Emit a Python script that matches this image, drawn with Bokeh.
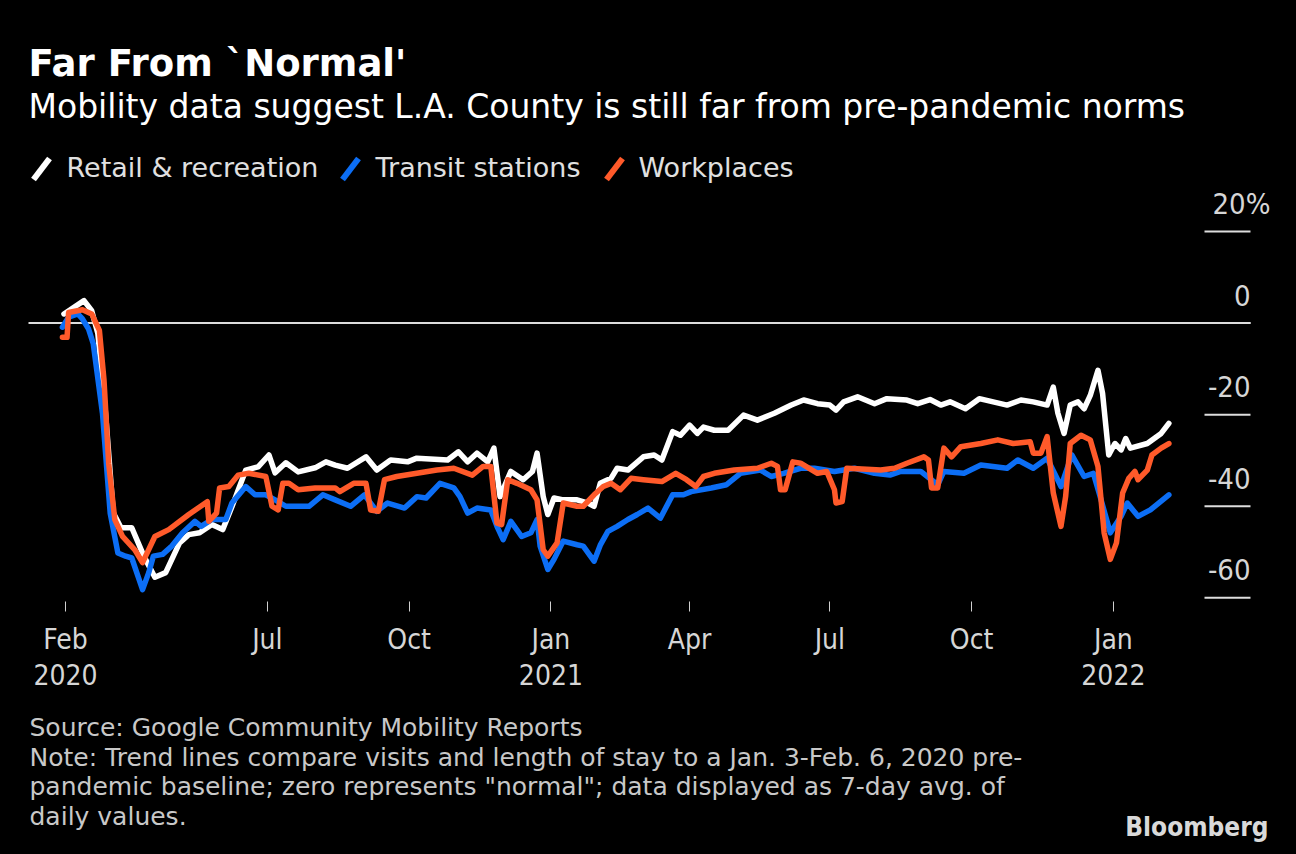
import pandas as pd
from bokeh.plotting import figure
from bokeh.layouts import column
from bokeh.models import Range1d, FixedTicker
from bokeh.core.properties import value
from bokeh.embed import file_html
from bokeh.resources import INLINE

# ---------------- data (days since 2020-02-21, % change vs. baseline) ----------------
START = "2020-02-21"

retail_day = [-1, 12, 17, 21, 26, 31, 36, 43, 51, 58, 65, 74, 80, 87, 95, 102, 108, 117, 125, 132,
              136, 143, 151, 162, 169, 175, 183, 195, 202, 211, 222, 228, 248, 255, 261, 267, 274, 278,
              282, 289, 297, 303, 306, 310, 313, 317, 323, 332, 339, 343, 347, 354, 358, 365, 375, 382,
              387, 394, 399, 405, 410, 414, 421, 430, 440, 449, 460, 471, 479, 488, 496, 500, 505, 514,
              525, 533, 546, 553, 561, 568, 574, 584, 593, 602, 611, 620, 628, 637, 641, 644, 648, 652,
              657, 661, 665, 670, 673, 677, 681, 685, 688, 691, 702, 711, 716]
retail_val = [2.0, 4.9, 2.7, -2.3, -19.7, -41.4, -44.7, -44.7, -51.0, -55.5, -54.5, -48.0, -46.2, -45.8,
              -44.0, -45.1, -40.1, -32.1, -31.4, -28.8, -32.7, -30.5, -32.5, -31.6, -30.3, -31.0, -31.7,
              -29.2, -32.1, -29.9, -30.3, -29.5, -29.9, -28.1, -30.3, -28.4, -30.3, -27.3, -37.9, -32.4,
              -34.2, -32.4, -28.4, -37.9, -41.8, -38.2, -38.6, -38.6, -39.3, -40.0, -35.0, -33.9, -31.7,
              -32.1, -29.2, -28.8, -29.9, -23.7, -24.5, -22.3, -24.1, -22.7, -23.4, -23.4, -20.1, -21.2,
              -19.7, -17.9, -16.8, -17.6, -17.9, -19.0, -17.2, -16.1, -17.6, -16.5, -16.8, -17.6, -16.7,
              -17.9, -17.2, -18.7, -16.5, -17.2, -17.9, -16.8, -17.2, -17.9, -14.0, -19.7, -24.1, -17.9,
              -17.2, -18.7, -15.8, -10.3, -15.4, -28.8, -26.3, -27.7, -25.2, -27.3, -26.3, -24.1, -21.9]

transit_day = [-2, 2, 8, 11, 15, 18, 24, 29, 34, 39, 43, 50, 54, 57, 63, 69, 76, 84, 88, 95, 104, 108,
               117, 123, 130, 136, 143, 158, 167, 175, 185, 194, 202, 209, 220, 228, 234, 243, 252, 256,
               261, 267, 276, 280, 284, 289, 296, 302, 306, 308, 313, 317, 323, 332, 336, 343, 347, 352,
               358, 365, 371, 378, 386, 394, 401, 406, 419, 429, 438, 451, 458, 466, 477, 486, 499, 512,
               525, 535, 542, 555, 566, 570, 583, 594, 611, 618, 628, 637, 646, 653, 661, 667, 672, 678,
               685, 689, 696, 704, 716]
transit_val = [-0.9, 1.3, 2.0, 0.9, -1.3, -4.5, -19.7, -41.5, -50.2, -50.9, -51.3, -58.2, -54.5, -50.9,
               -50.5, -48.7, -45.8, -43.3, -44.4, -42.9, -42.9, -39.3, -35.7, -37.5, -37.5, -38.6, -40.0,
               -40.0, -37.5, -38.6, -40.0, -37.5, -41.1, -39.3, -40.4, -37.9, -38.2, -35.0, -36.0, -37.9,
               -41.5, -40.4, -40.8, -44.4, -47.3, -43.3, -46.6, -45.8, -42.9, -48.7, -53.8, -51.6, -47.6,
               -48.4, -48.7, -52.0, -48.5, -45.5, -44.4, -42.9, -41.8, -40.4, -42.6, -37.5, -37.5, -36.8,
               -36.0, -35.3, -32.8, -32.1, -33.5, -32.8, -31.7, -31.7, -32.4, -31.7, -32.8, -33.2, -32.4,
               -32.4, -35.3, -32.4, -32.8, -31.0, -31.7, -29.9, -31.7, -29.5, -35.7, -28.8, -33.5, -32.8,
               -38.6, -45.8, -42.2, -39.3, -42.2, -40.8, -37.5]

work_day = [-2, 1, 2, 11, 17, 22, 25, 28, 32, 37, 45, 50, 58, 67, 80, 92, 93, 98, 100, 106, 112, 119,
            130, 134, 138, 141, 145, 151, 162, 175, 178, 187, 195, 198, 203, 207, 215, 228, 241, 252,
            264, 271, 276, 280, 283, 287, 293, 302, 306, 310, 313, 319, 323, 332, 336, 343, 349, 354,
            360, 367, 375, 387, 396, 403, 409, 414, 421, 434, 449, 458, 462, 464, 467, 472, 477, 488,
            494, 499, 500, 504, 507, 520, 529, 538, 546, 557, 560, 562, 566, 570, 575, 581, 594, 605,
            615, 626, 628, 633, 637, 641, 646, 649, 652, 659, 665, 670, 674, 678, 682, 686, 690, 694,
            696, 702, 705, 711, 716]
work_val = [-3.1, -3.1, 2.3, 2.9, 2.0, -1.6, -12.5, -30.6, -42.9, -46.6, -49.5, -52.3, -46.6, -45.1,
            -41.8, -39.0, -43.3, -41.5, -36.0, -35.7, -33.2, -32.8, -33.5, -40.0, -40.8, -35.0, -35.0,
            -36.4, -36.0, -36.0, -36.8, -35.0, -35.0, -40.8, -41.1, -34.2, -33.5, -32.8, -32.1, -31.7,
            -33.2, -31.3, -31.3, -43.7, -44.0, -34.2, -35.0, -36.4, -38.6, -49.5, -50.9, -48.0, -39.3,
            -40.0, -40.0, -37.5, -35.7, -35.0, -36.4, -33.9, -34.2, -34.6, -32.8, -34.2, -35.7, -33.5,
            -32.8, -32.1, -31.7, -30.6, -31.3, -36.4, -36.4, -30.3, -30.6, -32.8, -32.4, -36.4, -39.3,
            -39.0, -31.7, -31.9, -32.1, -31.7, -30.6, -29.2, -29.9, -36.0, -36.0, -27.3, -29.2, -27.0,
            -26.3, -25.5, -26.3, -25.9, -28.4, -28.4, -24.8, -37.1, -44.4, -37.9, -26.3, -24.5, -25.5,
            -31.3, -45.8, -51.6, -48.0, -37.1, -33.9, -32.4, -34.2, -32.1, -28.8, -27.3, -26.3]

series_names = ["Retail & recreation", "Transit stations", "Workplaces"]
series_colors = ["#ffffff", "#0c6ef5", "#ff5a2a"]

tick_dates = ["2020-02-21", "2020-07-01", "2020-10-01", "2021-01-01", "2021-04-01",
              "2021-07-01", "2021-10-01", "2022-01-01"]
tick_labels = ["Feb\n2020", "Jul", "Oct", "Jan\n2021", "Apr", "Jul", "Oct", "Jan\n2022"]
y_ticks = [20, 0, -20, -40, -60]
y_tick_labels = ["20%", "0", "-20", "-40", "-60"]

title = "Far From `Normal'"
subtitle = "Mobility data suggest L.A. County is still far from pre-pandemic norms"
notes = ["Source: Google Community Mobility Reports",
         "Note: Trend lines compare visits and length of stay to a Jan. 3-Feb. 6, 2020 pre-",
         "pandemic baseline; zero represents \"normal\"; data displayed as 7-day avg. of",
         "daily values."]
brand = "Bloomberg"

# ---------------- layout constants (page pixels) ----------------
FONT = "DejaVu Sans"
FONT_C = "DejaVu Sans Condensed"
W = 1296
HEAD_H = 184          # header strip: title, subtitle, legend
MAIN_H = 516          # chart strip incl. x axis
FOOT_H = 854 - HEAD_H - MAIN_H
FRAME_B = 601 - HEAD_H    # chart frame bottom inside main strip
X0, X1 = -42.18, 798.83   # day range over the full width (0 px .. 1296 px)
PX_PER_UNIT = 4.579
Y0 = -60.8
Y1 = Y0 + FRAME_B / PX_PER_UNIT


def bare(h, y_top, y_bot):
    f = figure(width=W, height=h, output_backend="svg", toolbar_location=None,
               x_range=Range1d(0, W), y_range=Range1d(y_bot, y_top),
               x_axis_location=None, y_axis_location=None, min_border=0,
               background_fill_color="#000000", border_fill_color="#000000", outline_line_color=None)
    f.grid.visible = False
    return f


def txt(f, x, y, t, size, color, bold=False, align="left", font=FONT):
    f.text(x=[x], y=[y], text=[t], text_font=value(font), text_font_size=value(f"{size}px"),
           text_color=color, text_font_style="bold" if bold else "normal",
           text_align=align, text_baseline="middle")


# header
head = bare(HEAD_H, 0, HEAD_H)
txt(head, 28, 63, title, 37, "#ffffff", bold=True)
txt(head, 28, 106, subtitle, 33, "#ffffff")
legend_text_x = [66, 375, 638]
legend_icon_x = [33, 342, 606]
for lx, ix, name, c in zip(legend_text_x, legend_icon_x, series_names, series_colors):
    head.segment(x0=[ix], y0=[179], x1=[ix + 16], y1=[158], line_color=c, line_width=6)
    txt(head, lx, 167, name, 27, "#e0e0e0")

# main chart
p = figure(width=W, height=MAIN_H, output_backend="svg", toolbar_location=None,
           x_range=Range1d(X0, X1), y_range=Range1d(Y0, Y1), y_axis_location=None,
           min_border_left=0, min_border_right=0, min_border_top=0,
           min_border_bottom=MAIN_H - FRAME_B,
           background_fill_color="#000000", border_fill_color="#000000", outline_line_color=None)
p.grid.visible = False

base = pd.Timestamp(START)
tick_pos = [int((pd.Timestamp(d) - base).days) for d in tick_dates]
xa = p.xaxis[0]
xa.ticker = FixedTicker(ticks=tick_pos)
xa.major_label_overrides = {t: l for t, l in zip(tick_pos, tick_labels)}
xa.axis_line_color = None
xa.major_tick_line_color = "#d0d0d0"
xa.major_tick_line_width = 1
xa.major_tick_in = 0
xa.major_tick_out = 10
xa.minor_tick_line_color = None
xa.major_label_text_font = FONT_C
xa.major_label_text_font_size = "28px"
xa.major_label_text_color = "#d6d6d6"
xa.major_label_text_line_height = 1.12
xa.major_label_standoff = 11

px_per_day = W / (X1 - X0)


def px_to_day(px):
    return X0 + px / px_per_day


# zero line and right-hand tick segments
p.segment(x0=[px_to_day(28)], x1=[px_to_day(1250)], y0=[0], y1=[0], line_color="#dddddd", line_width=2)
p.segment(x0=[px_to_day(1204)] * len(y_ticks), x1=[px_to_day(1250)] * len(y_ticks),
          y0=y_ticks, y1=y_ticks, line_color="#dddddd", line_width=2)
p.text(x=[px_to_day(1250)] * len(y_ticks), y=y_ticks, text=y_tick_labels,
       x_offset=[20 if t.endswith("%") else 0 for t in y_tick_labels], y_offset=-28,
       text_font=value(FONT_C), text_font_size=value("29px"), text_color="#d6d6d6",
       text_align="right", text_baseline="middle")

for xs, ys, c in zip([retail_day, transit_day, work_day], [retail_val, transit_val, work_val], series_colors):
    p.line(xs, ys, line_color=c, line_width=5.5, line_join="round", line_cap="round")

# footer
foot = bare(FOOT_H, 854 - FOOT_H, 854)
for i, t in enumerate(notes):
    txt(foot, 29, 727 + 29.7 * i, t, 25, "#c8c8c8")
txt(foot, 1268, 826, brand, 26, "#d9d9d9", bold=True, align="right", font=FONT_C)

layout = column(head, p, foot, spacing=0)

html = None
try:
    from bokeh.core.templates import FILE
    tmpl = FILE.environment.from_string(
        '{% extends "file.html" %}{% block postamble %}'
        '<style>html,body{background:#000000;margin:0;padding:0;}</style>{% endblock %}')
    html = file_html(layout, INLINE, template=tmpl)
except Exception:
    html = file_html(layout, INLINE)
open("out.html", "w").write(html)
